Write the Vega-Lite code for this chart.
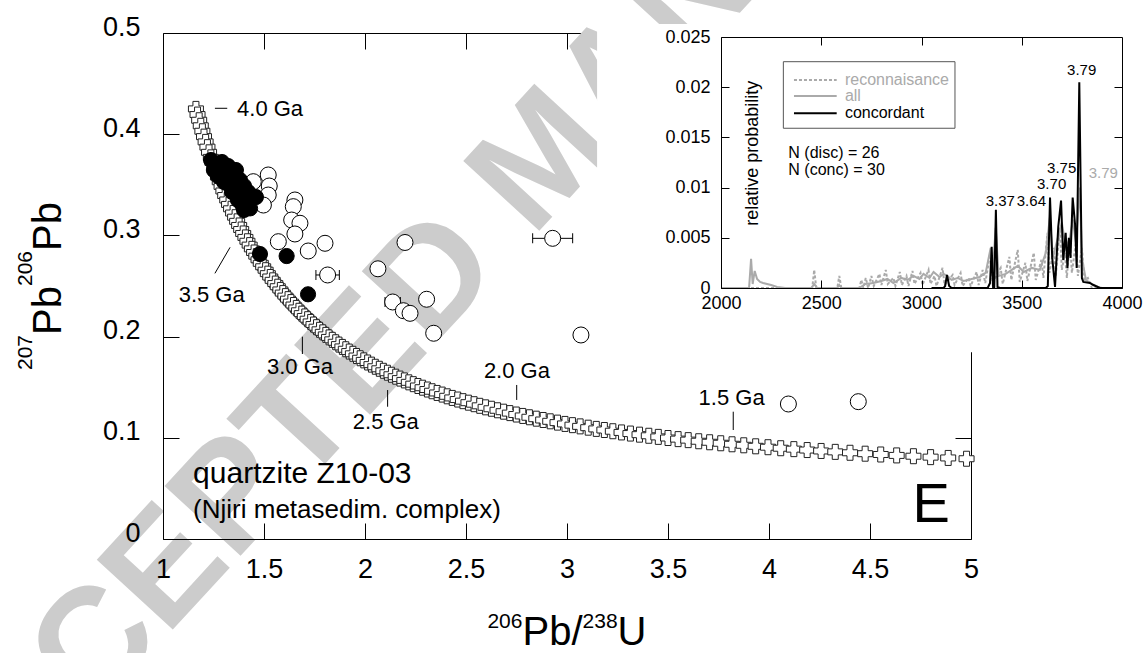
{
"$schema": "https://vega.github.io/schema/vega-lite/v6.json",
"width": 808, "height": 506,
"autosize": {"type": "none"},
"padding": {"left": 163, "top": 33, "right": 176, "bottom": 114},
"background": "white",
"config": {"view": {"stroke": null}, "font": "Liberation Sans",
  "axis": {"grid": false, "domainColor": "black", "tickColor": "black", "labelColor": "black", "titleColor": "black", "labelFont": "Liberation Sans", "titleFont": "Liberation Sans", "titleFontWeight": "normal", "domainWidth": 1, "tickWidth": 1},
  "text": {"font": "Liberation Sans", "color": "black"}},
"datasets": {
 "concordia": [{"x":1.163,"y":0.4250},{"x":1.171,"y":0.4194},{"x":1.179,"y":0.4138},{"x":1.187,"y":0.4083},{"x":1.195,"y":0.4029},{"x":1.203,"y":0.3976},{"x":1.211,"y":0.3924},{"x":1.220,"y":0.3872},{"x":1.228,"y":0.3821},{"x":1.237,"y":0.3771},{"x":1.245,"y":0.3721},{"x":1.254,"y":0.3672},{"x":1.263,"y":0.3624},{"x":1.272,"y":0.3577},{"x":1.281,"y":0.3530},{"x":1.290,"y":0.3484},{"x":1.299,"y":0.3439},{"x":1.308,"y":0.3394},{"x":1.318,"y":0.3350},{"x":1.327,"y":0.3306},{"x":1.337,"y":0.3263},{"x":1.347,"y":0.3221},{"x":1.357,"y":0.3180},{"x":1.367,"y":0.3139},{"x":1.377,"y":0.3098},{"x":1.387,"y":0.3058},{"x":1.397,"y":0.3019},{"x":1.408,"y":0.2980},{"x":1.418,"y":0.2942},{"x":1.429,"y":0.2904},{"x":1.440,"y":0.2867},{"x":1.451,"y":0.2831},{"x":1.462,"y":0.2795},{"x":1.473,"y":0.2759},{"x":1.484,"y":0.2724},{"x":1.496,"y":0.2690},{"x":1.508,"y":0.2656},{"x":1.519,"y":0.2622},{"x":1.531,"y":0.2589},{"x":1.543,"y":0.2556},{"x":1.556,"y":0.2524},{"x":1.568,"y":0.2493},{"x":1.581,"y":0.2461},{"x":1.593,"y":0.2430},{"x":1.606,"y":0.2400},{"x":1.619,"y":0.2370},{"x":1.633,"y":0.2341},{"x":1.646,"y":0.2312},{"x":1.660,"y":0.2283},{"x":1.673,"y":0.2255},{"x":1.687,"y":0.2227},{"x":1.702,"y":0.2199},{"x":1.716,"y":0.2172},{"x":1.731,"y":0.2145},{"x":1.745,"y":0.2119},{"x":1.760,"y":0.2093},{"x":1.775,"y":0.2067},{"x":1.791,"y":0.2042},{"x":1.806,"y":0.2017},{"x":1.822,"y":0.1992},{"x":1.838,"y":0.1968},{"x":1.855,"y":0.1944},{"x":1.871,"y":0.1921},{"x":1.888,"y":0.1898},{"x":1.905,"y":0.1875},{"x":1.922,"y":0.1852},{"x":1.940,"y":0.1830},{"x":1.958,"y":0.1808},{"x":1.976,"y":0.1786},{"x":1.994,"y":0.1765},{"x":2.013,"y":0.1744},{"x":2.032,"y":0.1723},{"x":2.051,"y":0.1702},{"x":2.071,"y":0.1682},{"x":2.091,"y":0.1662},{"x":2.111,"y":0.1643},{"x":2.131,"y":0.1623},{"x":2.152,"y":0.1604},{"x":2.173,"y":0.1585},{"x":2.195,"y":0.1567},{"x":2.217,"y":0.1548},{"x":2.239,"y":0.1530},{"x":2.262,"y":0.1512},{"x":2.285,"y":0.1495},{"x":2.309,"y":0.1477},{"x":2.332,"y":0.1460},{"x":2.357,"y":0.1443},{"x":2.382,"y":0.1427},{"x":2.407,"y":0.1410},{"x":2.432,"y":0.1394},{"x":2.459,"y":0.1378},{"x":2.485,"y":0.1362},{"x":2.512,"y":0.1347},{"x":2.540,"y":0.1332},{"x":2.568,"y":0.1316},{"x":2.597,"y":0.1301},{"x":2.626,"y":0.1287},{"x":2.656,"y":0.1272},{"x":2.686,"y":0.1258},{"x":2.717,"y":0.1244},{"x":2.749,"y":0.1230},{"x":2.781,"y":0.1216},{"x":2.814,"y":0.1203},{"x":2.848,"y":0.1189},{"x":2.882,"y":0.1176},{"x":2.917,"y":0.1163},{"x":2.953,"y":0.1150},{"x":2.990,"y":0.1137},{"x":3.027,"y":0.1125},{"x":3.065,"y":0.1113},{"x":3.105,"y":0.1100},{"x":3.145,"y":0.1088},{"x":3.185,"y":0.1077},{"x":3.227,"y":0.1065},{"x":3.270,"y":0.1053},{"x":3.314,"y":0.1042},{"x":3.359,"y":0.1031},{"x":3.405,"y":0.1020},{"x":3.452,"y":0.1009},{"x":3.500,"y":0.0998},{"x":3.550,"y":0.0987},{"x":3.600,"y":0.0977},{"x":3.652,"y":0.0966},{"x":3.706,"y":0.0956},{"x":3.761,"y":0.0946},{"x":3.817,"y":0.0936},{"x":3.875,"y":0.0926},{"x":3.934,"y":0.0916},{"x":3.995,"y":0.0907},{"x":4.058,"y":0.0897},{"x":4.123,"y":0.0888},{"x":4.189,"y":0.0879},{"x":4.258,"y":0.0870},{"x":4.328,"y":0.0861},{"x":4.401,"y":0.0852},{"x":4.476,"y":0.0843},{"x":4.553,"y":0.0835},{"x":4.632,"y":0.0826},{"x":4.715,"y":0.0818},{"x":4.800,"y":0.0809},{"x":4.887,"y":0.0801},{"x":4.978,"y":0.0793}],
 "agetick": [{"x":1.257,"y":0.4256,"x2":1.318,"y2":0.4256},{"x":1.332,"y":0.2882,"x2":1.257,"y2":0.2625},{"x":1.690,"y":0.1999,"x2":1.690,"y2":0.1828},{"x":2.112,"y":0.1472,"x2":2.112,"y2":0.1307},{"x":2.751,"y":0.1522,"x2":2.751,"y2":0.1374},{"x":3.823,"y":0.1258,"x2":3.823,"y2":0.1077}],
 "agelabel": [{"x":1.530,"y":0.4249,"label":"4.0 Ga"},{"x":1.241,"y":0.2408,"label":"3.5 Ga"},{"x":1.678,"y":0.1698,"label":"3.0 Ga"},{"x":2.103,"y":0.1159,"label":"2.5 Ga"},{"x":2.752,"y":0.1657,"label":"2.0 Ga"},{"x":3.815,"y":0.1390,"label":"1.5 Ga"}],
 "errs": [{"y":0.2609,"lo":1.757,"hi":1.873},{"y":0.2342,"lo":2.099,"hi":2.175},{"y":0.2971,"lo":2.830,"hi":3.028}],
 "disc": [{"x":1.521,"y":0.3597},{"x":1.447,"y":0.3531},{"x":1.526,"y":0.3488},{"x":1.521,"y":0.3399},{"x":1.497,"y":0.3300},{"x":1.653,"y":0.3350},{"x":1.645,"y":0.3284},{"x":1.637,"y":0.3152},{"x":1.678,"y":0.3120},{"x":1.653,"y":0.3014},{"x":1.571,"y":0.2938},{"x":1.802,"y":0.2922},{"x":1.719,"y":0.2846},{"x":1.815,"y":0.2609},{"x":2.198,"y":0.2930},{"x":2.064,"y":0.2670},{"x":2.137,"y":0.2342},{"x":2.190,"y":0.2256},{"x":2.223,"y":0.2230},{"x":2.305,"y":0.2369},{"x":2.340,"y":0.2033},{"x":2.929,"y":0.2971},{"x":3.069,"y":0.2016},{"x":4.096,"y":0.1334},{"x":4.442,"y":0.1357}],
 "conc": [{"x":1.238,"y":0.3745},{"x":1.262,"y":0.3686},{"x":1.292,"y":0.3725},{"x":1.322,"y":0.3686},{"x":1.342,"y":0.3646},{"x":1.282,"y":0.3626},{"x":1.312,"y":0.3587},{"x":1.351,"y":0.3567},{"x":1.381,"y":0.3547},{"x":1.322,"y":0.3508},{"x":1.361,"y":0.3468},{"x":1.401,"y":0.3488},{"x":1.381,"y":0.3409},{"x":1.421,"y":0.3429},{"x":1.441,"y":0.3370},{"x":1.411,"y":0.3330},{"x":1.371,"y":0.3350},{"x":1.401,"y":0.3251},{"x":1.342,"y":0.3429},{"x":1.302,"y":0.3528},{"x":1.272,"y":0.3587},{"x":1.431,"y":0.3267},{"x":1.460,"y":0.3379},{"x":1.332,"y":0.3626},{"x":1.252,"y":0.3646},{"x":1.361,"y":0.3646},{"x":1.391,"y":0.3310},{"x":1.480,"y":0.2816},{"x":1.612,"y":0.2796},{"x":1.718,"y":0.2418}],
 "recon": [{"a":2000,"p":0},{"a":2455,"p":0},{"a":2465,"p":0.0018},{"a":2475,"p":0},{"a":2580,"p":0},{"a":2590,"p":0.0012},{"a":2600,"p":0},{"a":2690,"p":0},{"a":2700,"p":0.0008},{"a":2710,"p":0},{"a":2722,"p":0.0010},{"a":2734,"p":0},{"a":2750,"p":0.0012},{"a":2762,"p":0.0002},{"a":2790,"p":0.0014},{"a":2800,"p":0.0003},{"a":2822,"p":0.0018},{"a":2832,"p":0.0004},{"a":2860,"p":0.0010},{"a":2870,"p":0.0002},{"a":2892,"p":0.0016},{"a":2902,"p":0.0003},{"a":2925,"p":0.0012},{"a":2935,"p":0.0002},{"a":2955,"p":0.0017},{"a":2965,"p":0.0004},{"a":2995,"p":0.0015},{"a":3005,"p":0.0003},{"a":3035,"p":0.0018},{"a":3045,"p":0.0004},{"a":3065,"p":0.0012},{"a":3075,"p":0.0002},{"a":3105,"p":0.0020},{"a":3115,"p":0.0003},{"a":3155,"p":0.0013},{"a":3165,"p":0.0003},{"a":3195,"p":0.0015},{"a":3205,"p":0.0002},{"a":3235,"p":0.0010},{"a":3245,"p":0.0002},{"a":3275,"p":0.0016},{"a":3285,"p":0.0003},{"a":3305,"p":0.0018},{"a":3318,"p":0.0005},{"a":3345,"p":0.0037},{"a":3355,"p":0.0005},{"a":3395,"p":0.0020},{"a":3405,"p":0.0004},{"a":3438,"p":0.0031},{"a":3448,"p":0.0008},{"a":3480,"p":0.0038},{"a":3490,"p":0.0006},{"a":3518,"p":0.0025},{"a":3528,"p":0.0007},{"a":3560,"p":0.0035},{"a":3570,"p":0.0008},{"a":3598,"p":0.0028},{"a":3608,"p":0.0010},{"a":3628,"p":0.0055},{"a":3638,"p":0.0015},{"a":3660,"p":0.0040},{"a":3670,"p":0.0012},{"a":3690,"p":0.0060},{"a":3700,"p":0.0018},{"a":3715,"p":0.0035},{"a":3725,"p":0.0010},{"a":3740,"p":0.0050},{"a":3750,"p":0.0015},{"a":3770,"p":0.0045},{"a":3780,"p":0.0012},{"a":3800,"p":0.0040},{"a":3812,"p":0.0008},{"a":3830,"p":0.0010},{"a":3850,"p":0},{"a":4000,"p":0}],
 "allp": [{"a":2000,"p":0},{"a":2140,"p":0},{"a":2150,"p":0.0029},{"a":2158,"p":0.0004},{"a":2168,"p":0.0017},{"a":2180,"p":0.0009},{"a":2195,"p":0.0006},{"a":2210,"p":0.0005},{"a":2230,"p":0.0004},{"a":2250,"p":0.0003},{"a":2280,"p":0.0001},{"a":2320,"p":0},{"a":2450,"p":0},{"a":2465,"p":0.0004},{"a":2480,"p":0},{"a":2580,"p":0},{"a":2590,"p":0.0003},{"a":2600,"p":0},{"a":2690,"p":0},{"a":2720,"p":0.0004},{"a":2760,"p":0.0005},{"a":2800,"p":0.0007},{"a":2830,"p":0.0009},{"a":2860,"p":0.0005},{"a":2900,"p":0.0010},{"a":2930,"p":0.0008},{"a":2960,"p":0.0012},{"a":2990,"p":0.0009},{"a":3010,"p":0.0014},{"a":3040,"p":0.0010},{"a":3060,"p":0.0016},{"a":3090,"p":0.0011},{"a":3110,"p":0.0014},{"a":3130,"p":0.0012},{"a":3150,"p":0.0008},{"a":3180,"p":0.0010},{"a":3210,"p":0.0007},{"a":3250,"p":0.0009},{"a":3290,"p":0.0011},{"a":3320,"p":0.0015},{"a":3345,"p":0.0040},{"a":3355,"p":0.0015},{"a":3370,"p":0.0060},{"a":3385,"p":0.0012},{"a":3420,"p":0.0014},{"a":3450,"p":0.0018},{"a":3480,"p":0.0022},{"a":3510,"p":0.0016},{"a":3550,"p":0.0020},{"a":3590,"p":0.0018},{"a":3620,"p":0.0035},{"a":3640,"p":0.0070},{"a":3655,"p":0.0030},{"a":3680,"p":0.0050},{"a":3700,"p":0.0065},{"a":3720,"p":0.0040},{"a":3740,"p":0.0050},{"a":3755,"p":0.0068},{"a":3770,"p":0.0045},{"a":3790,"p":0.0100},{"a":3800,"p":0.0030},{"a":3820,"p":0.0008},{"a":3850,"p":0.0004},{"a":3880,"p":0.0001},{"a":3900,"p":0},{"a":4000,"p":0}],
 "concp": [{"a":3050,"p":0},{"a":3110,"p":0},{"a":3118,"p":0.0002},{"a":3127,"p":0.0013},{"a":3138,"p":0.0002},{"a":3150,"p":0},{"a":3330,"p":0},{"a":3342,"p":0.0005},{"a":3350,"p":0.0041},{"a":3357,"p":0.0001},{"a":3363,"p":0.0001},{"a":3371,"p":0.0078},{"a":3379,"p":0.0001},{"a":3390,"p":0},{"a":3620,"p":0},{"a":3630,"p":0.0002},{"a":3641,"p":0.0090},{"a":3652,"p":0.0030},{"a":3666,"p":0.0001},{"a":3682,"p":0.0061},{"a":3696,"p":0.0087},{"a":3707,"p":0.0028},{"a":3719,"p":0.0055},{"a":3728,"p":0.0020},{"a":3735,"p":0.0050},{"a":3743,"p":0.0030},{"a":3754,"p":0.0090},{"a":3766,"p":0.0063},{"a":3774,"p":0.0020},{"a":3787,"p":0.0205},{"a":3800,"p":0.0010},{"a":3807,"p":0.0006},{"a":3840,"p":0.0005},{"a":3857,"p":0.0003},{"a":3890,"p":0},{"a":4000,"p":0}]
},
"resolve": {"scale": {"x": "independent", "y": "independent"}, "axis": {"x": "independent", "y": "independent"}},
"layer": [
  {"data": {"values": [{"x": 3.053, "y": 0.3457, "t": "ACCEPTED MANUSCRIPT"}]},
   "mark": {"type": "text", "fontSize": 150, "fontWeight": "bold", "color": "#cccccc", "angle": 312.6, "align": "center", "baseline": "alphabetic"},
   "encoding": {"x": {"field": "x", "type": "quantitative", "scale": {"domain": [1, 5], "nice": false, "zero": false}, "axis": null},
    "y": {"field": "y", "type": "quantitative", "scale": {"domain": [0, 0.5], "nice": false, "zero": false}, "axis": null}, "text": {"field": "t"}}},
  {"data": {"name": "concordia"},
   "mark": {"type": "point", "shape": "cross", "filled": true, "fill": "white", "stroke": "#222", "strokeWidth": 1, "size": 225, "opacity": 1},
   "encoding": {
    "x": {"field": "x", "type": "quantitative", "scale": {"domain": [1, 5], "nice": false, "zero": false},
      "axis": {"orient": "bottom", "values": [1, 1.5, 2, 2.5, 3, 3.5, 4, 4.5, 5], "format": "~g", "tickSize": -16, "labelPadding": 33, "labelFontSize": 27, "labelFlush": false, "labelOverlap": false, "title": null, "zindex": 1}},
    "y": {"field": "y", "type": "quantitative", "scale": {"domain": [0, 0.5], "nice": false, "zero": false},
      "axis": {"orient": "left", "values": [0, 0.1, 0.2, 0.3, 0.4, 0.5], "format": "~g", "tickSize": -16, "labelPadding": 39, "labelOffset": -6, "labelFontSize": 27, "labelFlush": false, "labelOverlap": false, "title": null, "zindex": 1}}}},
  {"data": {"values": [{"x": 1, "y": 0}]}, "mark": {"type": "point", "opacity": 0},
   "encoding": {
    "x": {"field": "x", "type": "quantitative", "scale": {"domain": [1, 5], "nice": false, "zero": false},
      "axis": {"orient": "top", "values": [1.5, 2, 2.5, 3, 3.5, 4, 4.5], "labels": false, "tickSize": -16, "title": null}},
    "y": {"field": "y", "type": "quantitative", "scale": {"domain": [0, 0.5], "nice": false, "zero": false},
      "axis": {"orient": "right", "values": [0.1, 0.2, 0.3, 0.4], "labels": false, "tickSize": -16, "title": null}}}},
  {"data": {"values": [{"x": 2.606, "y": -0.0879, "t": "206"}, {"x": 3.077, "y": -0.0879, "t": "238"}]},
   "mark": {"type": "text", "fontSize": 21, "align": "left", "baseline": "alphabetic", "color": "black"},
   "encoding": {"x": {"field": "x", "type": "quantitative", "scale": {"domain": [1, 5], "nice": false, "zero": false}, "axis": null},
    "y": {"field": "y", "type": "quantitative", "scale": {"domain": [0, 0.5], "nice": false, "zero": false}, "axis": null}, "text": {"field": "t"}}},
  {"data": {"values": [{"x": 2.780, "y": -0.1047, "t": "Pb/"}, {"x": 3.250, "y": -0.1047, "t": "U"}]},
   "mark": {"type": "text", "fontSize": 40, "align": "left", "baseline": "alphabetic", "color": "black"},
   "encoding": {"x": {"field": "x", "type": "quantitative", "scale": {"domain": [1, 5], "nice": false, "zero": false}, "axis": null},
    "y": {"field": "y", "type": "quantitative", "scale": {"domain": [0, 0.5], "nice": false, "zero": false}, "axis": null}, "text": {"field": "t"}}},
  {"data": {"values": [{"x": 0.3515, "y": 0.1670, "t": "207"}, {"x": 0.3515, "y": 0.2500, "t": "206"}]},
   "mark": {"type": "text", "fontSize": 21, "align": "left", "baseline": "alphabetic", "angle": 270, "color": "black"},
   "encoding": {"x": {"field": "x", "type": "quantitative", "scale": {"domain": [1, 5], "nice": false, "zero": false}, "axis": null},
    "y": {"field": "y", "type": "quantitative", "scale": {"domain": [0, 0.5], "nice": false, "zero": false}, "axis": null}, "text": {"field": "t"}}},
  {"data": {"values": [{"x": 0.495, "y": 0.2016, "t": "Pb"}, {"x": 0.495, "y": 0.2846, "t": "Pb"}]},
   "mark": {"type": "text", "fontSize": 40, "align": "left", "baseline": "alphabetic", "angle": 270, "color": "black"},
   "encoding": {"x": {"field": "x", "type": "quantitative", "scale": {"domain": [1, 5], "nice": false, "zero": false}, "axis": null},
    "y": {"field": "y", "type": "quantitative", "scale": {"domain": [0, 0.5], "nice": false, "zero": false}, "axis": null}, "text": {"field": "t"}}},
  {"data": {"name": "agetick"}, "mark": {"type": "rule", "color": "black", "strokeWidth": 1},
   "encoding": {"x": {"field": "x", "type": "quantitative", "scale": {"domain": [1, 5], "nice": false, "zero": false}, "axis": null}, "x2": {"field": "x2"},
    "y": {"field": "y", "type": "quantitative", "scale": {"domain": [0, 0.5], "nice": false, "zero": false}, "axis": null}, "y2": {"field": "y2"}}},
  {"data": {"name": "agelabel"}, "mark": {"type": "text", "fontSize": 22, "align": "center", "baseline": "middle", "color": "black"},
   "encoding": {"x": {"field": "x", "type": "quantitative", "scale": {"domain": [1, 5], "nice": false, "zero": false}, "axis": null},
    "y": {"field": "y", "type": "quantitative", "scale": {"domain": [0, 0.5], "nice": false, "zero": false}, "axis": null}, "text": {"field": "label"}}},
  {"data": {"name": "errs"}, "mark": {"type": "rule", "color": "black", "strokeWidth": 1},
   "encoding": {"x": {"field": "lo", "type": "quantitative", "scale": {"domain": [1, 5], "nice": false, "zero": false}, "axis": null}, "x2": {"field": "hi"},
    "y": {"field": "y", "type": "quantitative", "scale": {"domain": [0, 0.5], "nice": false, "zero": false}, "axis": null}}},
  {"data": {"name": "errs"}, "mark": {"type": "tick", "orient": "vertical", "size": 10, "thickness": 1, "color": "black", "opacity": 1},
   "encoding": {"x": {"field": "lo", "type": "quantitative", "scale": {"domain": [1, 5], "nice": false, "zero": false}, "axis": null},
    "y": {"field": "y", "type": "quantitative", "scale": {"domain": [0, 0.5], "nice": false, "zero": false}, "axis": null}}},
  {"data": {"name": "errs"}, "mark": {"type": "tick", "orient": "vertical", "size": 10, "thickness": 1, "color": "black", "opacity": 1},
   "encoding": {"x": {"field": "hi", "type": "quantitative", "scale": {"domain": [1, 5], "nice": false, "zero": false}, "axis": null},
    "y": {"field": "y", "type": "quantitative", "scale": {"domain": [0, 0.5], "nice": false, "zero": false}, "axis": null}}},
  {"data": {"name": "disc"}, "mark": {"type": "point", "shape": "circle", "filled": true, "fill": "white", "stroke": "black", "strokeWidth": 1, "size": 256, "opacity": 1},
   "encoding": {"x": {"field": "x", "type": "quantitative", "scale": {"domain": [1, 5], "nice": false, "zero": false}, "axis": null},
    "y": {"field": "y", "type": "quantitative", "scale": {"domain": [0, 0.5], "nice": false, "zero": false}, "axis": null}}},
  {"data": {"name": "conc"}, "mark": {"type": "point", "shape": "circle", "filled": true, "fill": "black", "stroke": "black", "strokeWidth": 1, "size": 230, "opacity": 1},
   "encoding": {"x": {"field": "x", "type": "quantitative", "scale": {"domain": [1, 5], "nice": false, "zero": false}, "axis": null},
    "y": {"field": "y", "type": "quantitative", "scale": {"domain": [0, 0.5], "nice": false, "zero": false}, "axis": null}}},
  {"data": {"values": [{"x": 1.149, "y": 0.0553, "label": "quartzite Z10-03"}]}, "mark": {"type": "text", "fontSize": 30, "align": "left", "baseline": "alphabetic", "color": "black"},
   "encoding": {"x": {"field": "x", "type": "quantitative", "scale": {"domain": [1, 5], "nice": false, "zero": false}, "axis": null},
    "y": {"field": "y", "type": "quantitative", "scale": {"domain": [0, 0.5], "nice": false, "zero": false}, "axis": null}, "text": {"field": "label"}}},
  {"data": {"values": [{"x": 1.149, "y": 0.0208, "label": "(Njiri metasedim. complex)"}]}, "mark": {"type": "text", "fontSize": 26, "align": "left", "baseline": "alphabetic", "color": "black"},
   "encoding": {"x": {"field": "x", "type": "quantitative", "scale": {"domain": [1, 5], "nice": false, "zero": false}, "axis": null},
    "y": {"field": "y", "type": "quantitative", "scale": {"domain": [0, 0.5], "nice": false, "zero": false}, "axis": null}, "text": {"field": "label"}}},
  {"data": {"values": [{"x": 4.711, "y": 0.0168, "label": "E"}]}, "mark": {"type": "text", "fontSize": 56, "align": "left", "baseline": "alphabetic", "color": "black"},
   "encoding": {"x": {"field": "x", "type": "quantitative", "scale": {"domain": [1, 5], "nice": false, "zero": false}, "axis": null},
    "y": {"field": "y", "type": "quantitative", "scale": {"domain": [0, 0.5], "nice": false, "zero": false}, "axis": null}, "text": {"field": "label"}}},
  {"data": {"values": [{"x1": 1382, "x2": 4130, "y1": -0.0064, "y2": 0.0263}]}, "mark": {"type": "rect", "fill": "white"},
   "encoding": {
    "x": {"field": "x1", "type": "quantitative", "scale": {"domain": [2000, 4000], "range": [558, 959], "nice": false, "zero": false},
      "axis": {"orient": "bottom", "offset": -251, "values": [2000, 2500, 3000, 3500, 4000], "format": "d", "tickSize": -8, "labelPadding": 14, "labelFontSize": 18, "labelFlush": false, "labelOverlap": false, "title": null, "zindex": 1}},
    "x2": {"field": "x2"},
    "y": {"field": "y1", "type": "quantitative", "scale": {"domain": [0, 0.025], "range": [255, 4], "nice": false, "zero": false},
      "axis": {"orient": "left", "offset": -558, "values": [0, 0.005, 0.01, 0.015, 0.02, 0.025], "format": ".3~f", "tickSize": -8, "labelPadding": 19, "labelFontSize": 18, "labelFlush": false, "labelOverlap": false, "title": null, "zindex": 1}},
    "y2": {"field": "y2"}}},
  {"data": {"values": [{"a": 2000, "p": 0}]}, "mark": {"type": "point", "opacity": 0},
   "encoding": {
    "x": {"field": "a", "type": "quantitative", "scale": {"domain": [2000, 4000], "range": [558, 959], "nice": false, "zero": false},
      "axis": {"orient": "top", "offset": -4, "values": [2500, 3000, 3500], "labels": false, "tickSize": -8, "title": null, "zindex": 1}},
    "y": {"field": "p", "type": "quantitative", "scale": {"domain": [0, 0.025], "range": [255, 4], "nice": false, "zero": false},
      "axis": {"orient": "right", "offset": 151, "values": [0.005, 0.01, 0.015, 0.02], "labels": false, "tickSize": -8, "title": null, "zindex": 1}}}},
  {"data": {"name": "allp"}, "mark": {"type": "line", "color": "#aaaaaa", "strokeWidth": 2},
   "encoding": {"x": {"field": "a", "type": "quantitative", "scale": {"domain": [2000, 4000], "range": [558, 959], "nice": false, "zero": false}, "axis": null},
    "y": {"field": "p", "type": "quantitative", "scale": {"domain": [0, 0.025], "range": [255, 4], "nice": false, "zero": false}, "axis": null}}},
  {"data": {"name": "recon"}, "mark": {"type": "line", "color": "#aaaaaa", "strokeWidth": 2, "strokeDash": [3, 2]},
   "encoding": {"x": {"field": "a", "type": "quantitative", "scale": {"domain": [2000, 4000], "range": [558, 959], "nice": false, "zero": false}, "axis": null},
    "y": {"field": "p", "type": "quantitative", "scale": {"domain": [0, 0.025], "range": [255, 4], "nice": false, "zero": false}, "axis": null}}},
  {"data": {"name": "concp"}, "mark": {"type": "line", "color": "black", "strokeWidth": 2},
   "encoding": {"x": {"field": "a", "type": "quantitative", "scale": {"domain": [2000, 4000], "range": [558, 959], "nice": false, "zero": false}, "axis": null},
    "y": {"field": "p", "type": "quantitative", "scale": {"domain": [0, 0.025], "range": [255, 4], "nice": false, "zero": false}, "axis": null}}},
  {"data": {"values": [{"x1": 2311, "x2": 3167, "y1": 0.01591, "y2": 0.02254}]}, "mark": {"type": "rect", "fill": "white", "stroke": "#555555", "strokeWidth": 1},
   "encoding": {"x": {"field": "x1", "type": "quantitative", "scale": {"domain": [2000, 4000], "range": [558, 959], "nice": false, "zero": false}, "axis": null}, "x2": {"field": "x2"},
    "y": {"field": "y1", "type": "quantitative", "scale": {"domain": [0, 0.025], "range": [255, 4], "nice": false, "zero": false}, "axis": null}, "y2": {"field": "y2"}}},
  {"data": {"values": [{"x1": 2364, "x2": 2577, "y": 0.02072}]}, "mark": {"type": "rule", "color": "#aaaaaa", "strokeWidth": 2, "strokeDash": [3, 2]},
   "encoding": {"x": {"field": "x1", "type": "quantitative", "scale": {"domain": [2000, 4000], "range": [558, 959], "nice": false, "zero": false}, "axis": null}, "x2": {"field": "x2"},
    "y": {"field": "y", "type": "quantitative", "scale": {"domain": [0, 0.025], "range": [255, 4], "nice": false, "zero": false}, "axis": null}}},
  {"data": {"values": [{"x1": 2364, "x2": 2577, "y": 0.01912}]}, "mark": {"type": "rule", "color": "#aaaaaa", "strokeWidth": 2},
   "encoding": {"x": {"field": "x1", "type": "quantitative", "scale": {"domain": [2000, 4000], "range": [558, 959], "nice": false, "zero": false}, "axis": null}, "x2": {"field": "x2"},
    "y": {"field": "y", "type": "quantitative", "scale": {"domain": [0, 0.025], "range": [255, 4], "nice": false, "zero": false}, "axis": null}}},
  {"data": {"values": [{"x1": 2364, "x2": 2577, "y": 0.0174}]}, "mark": {"type": "rule", "color": "black", "strokeWidth": 2},
   "encoding": {"x": {"field": "x1", "type": "quantitative", "scale": {"domain": [2000, 4000], "range": [558, 959], "nice": false, "zero": false}, "axis": null}, "x2": {"field": "x2"},
    "y": {"field": "y", "type": "quantitative", "scale": {"domain": [0, 0.025], "range": [255, 4], "nice": false, "zero": false}, "axis": null}}},
  {"data": {"values": [{"x": 2618, "y": 0.02072, "label": "reconnaisance", "k": "g"}, {"x": 2618, "y": 0.01912, "label": "all", "k": "g"}, {"x": 2618, "y": 0.0174, "label": "concordant", "k": "b"}, {"x": 2336, "y": 0.01342, "label": "N (disc) = 26", "k": "b"}, {"x": 2336, "y": 0.01175, "label": "N (conc) = 30", "k": "b"}]},
   "mark": {"type": "text", "fontSize": 16, "align": "left", "baseline": "middle"},
   "encoding": {"x": {"field": "x", "type": "quantitative", "scale": {"domain": [2000, 4000], "range": [558, 959], "nice": false, "zero": false}, "axis": null},
    "y": {"field": "y", "type": "quantitative", "scale": {"domain": [0, 0.025], "range": [255, 4], "nice": false, "zero": false}, "axis": null},
    "text": {"field": "label"},
    "color": {"field": "k", "type": "nominal", "scale": {"domain": ["g", "b"], "range": ["#aaaaaa", "black"]}, "legend": null}}},
  {"data": {"values": [{"x": 3799, "y": 0.02171, "label": "3.79", "k": "b"}, {"x": 3699, "y": 0.0120, "label": "3.75", "k": "b"}, {"x": 3649, "y": 0.01036, "label": "3.70", "k": "b"}, {"x": 3548, "y": 0.00862, "label": "3.64", "k": "b"}, {"x": 3393, "y": 0.00862, "label": "3.37", "k": "b"}, {"x": 3907, "y": 0.01145, "label": "3.79", "k": "g"}]},
   "mark": {"type": "text", "fontSize": 15, "align": "center", "baseline": "middle"},
   "encoding": {"x": {"field": "x", "type": "quantitative", "scale": {"domain": [2000, 4000], "range": [558, 959], "nice": false, "zero": false}, "axis": null},
    "y": {"field": "y", "type": "quantitative", "scale": {"domain": [0, 0.025], "range": [255, 4], "nice": false, "zero": false}, "axis": null},
    "text": {"field": "label"},
    "color": {"field": "k", "type": "nominal", "scale": {"domain": ["g", "b"], "range": ["#aaaaaa", "black"]}, "legend": null}}},
  {"data": {"values": [{"x": 2161, "y": 0.01342, "label": "relative probability"}]},
   "mark": {"type": "text", "fontSize": 18, "align": "center", "baseline": "middle", "angle": 270, "color": "black"},
   "encoding": {"x": {"field": "x", "type": "quantitative", "scale": {"domain": [2000, 4000], "range": [558, 959], "nice": false, "zero": false}, "axis": null},
    "y": {"field": "y", "type": "quantitative", "scale": {"domain": [0, 0.025], "range": [255, 4], "nice": false, "zero": false}, "axis": null},
    "text": {"field": "label"}}}
]
}
